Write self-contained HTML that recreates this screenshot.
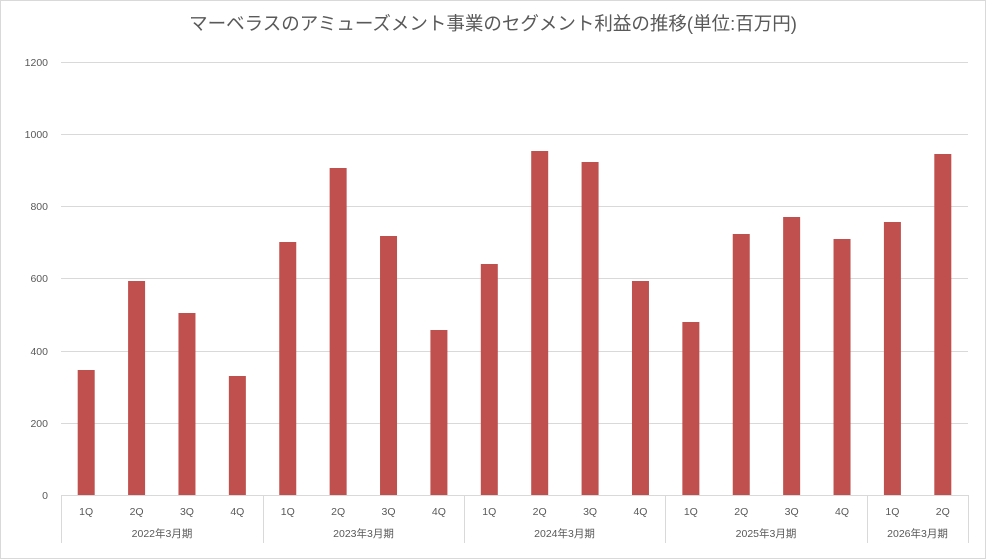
<!DOCTYPE html>
<html><head><meta charset="utf-8"><style>
body{margin:0;background:#fff;}
svg{display:block;font-family:"Liberation Sans","Noto Sans CJK JP",sans-serif;}
</style></head><body>
<svg width="986" height="560" xmlns="http://www.w3.org/2000/svg">
<rect x="0.5" y="0.5" width="985" height="558" fill="#fff" stroke="#d9d9d9"/>
<text x="493" y="30" text-anchor="middle" font-size="18.5" fill="#595959">マーベラスのアミューズメント事業のセグメント利益の推移(単位:百万円)</text>
<g stroke="#d9d9d9" stroke-width="1">
<line x1="61" y1="62.5" x2="968" y2="62.5"/>
<line x1="61" y1="134.5" x2="968" y2="134.5"/>
<line x1="61" y1="206.5" x2="968" y2="206.5"/>
<line x1="61" y1="278.5" x2="968" y2="278.5"/>
<line x1="61" y1="351.5" x2="968" y2="351.5"/>
<line x1="61" y1="423.5" x2="968" y2="423.5"/>
<line x1="61" y1="495.5" x2="968" y2="495.5"/>
<line x1="61.5" y1="495" x2="61.5" y2="543"/>
<line x1="263.5" y1="495" x2="263.5" y2="543"/>
<line x1="464.5" y1="495" x2="464.5" y2="543"/>
<line x1="665.5" y1="495" x2="665.5" y2="543"/>
<line x1="867.5" y1="495" x2="867.5" y2="543"/>
<line x1="968.5" y1="495" x2="968.5" y2="543"/>
</g>
<g font-size="10.5" fill="#595959" text-anchor="end">
<text x="48" y="66">1200</text>
<text x="48" y="138">1000</text>
<text x="48" y="210">800</text>
<text x="48" y="282">600</text>
<text x="48" y="355">400</text>
<text x="48" y="427">200</text>
<text x="48" y="499">0</text>
</g>
<g fill="#c0504d" id="bars"></g>
<g font-size="10.5" fill="#595959" text-anchor="middle" id="ql"></g>
<g font-size="10.5" fill="#595959" text-anchor="middle">
<text x="162" y="537">2022年3月期</text>
<text x="363.5" y="537">2023年3月期</text>
<text x="564.5" y="537">2024年3月期</text>
<text x="766" y="537">2025年3月期</text>
<text x="917.5" y="537">2026年3月期</text>
</g>
<script>
var tops=[370,281,313,376,242,168,236,330,264,151,162,281,322,234,217,239,222,154];
var ns="http://www.w3.org/2000/svg",w=(968-61)/18,b=document.getElementById("bars"),q=document.getElementById("ql");
tops.forEach(function(t,i){var c=61+w*(i+0.5);var r=document.createElementNS(ns,"rect");
r.setAttribute("x",c-8.5);r.setAttribute("y",t);r.setAttribute("width",17);r.setAttribute("height",495-t);b.appendChild(r);
var tx=document.createElementNS(ns,"text");tx.setAttribute("x",c);tx.setAttribute("y",515);tx.textContent=(i%4+1)+"Q";q.appendChild(tx);});
</script>
</svg>
</body></html>
